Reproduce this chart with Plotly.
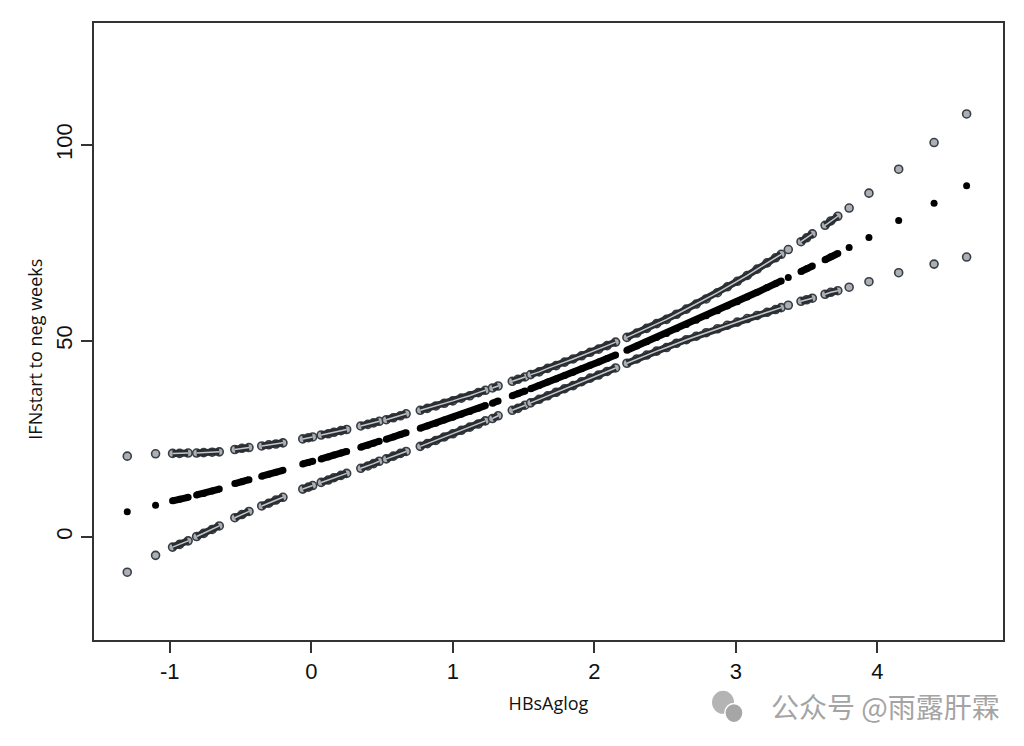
import plotly.graph_objects as go

# HBsAg (log) values of the observations; None marks a gap between runs of points
hbsag_log = [
    -1.30, None, -1.10, None,
    -0.98, -0.93, -0.87, None,
    -0.81, -0.76, -0.70, -0.65, None,
    -0.54, -0.49, -0.44, None,
    -0.35, -0.30, -0.25, -0.20, None,
    -0.06, -0.02, 0.01, None,
    0.07, 0.12, 0.16, 0.21, 0.25, None,
    0.35, 0.40, 0.44, 0.48, None,
    0.53, 0.58, 0.63, 0.67, None,
    0.77, 0.82, 0.88, 0.94, 1.00, 1.06, 1.12, 1.18, 1.23, None,
    1.28, 1.32, None,
    1.42, 1.46, 1.51, None,
    1.55, 1.61, 1.67, 1.73, 1.79, 1.85, 1.91, 1.97, 2.03, 2.09, 2.15, None,
    2.23, 2.30, 2.37, 2.44, 2.51, 2.58, 2.65, 2.72, 2.79, 2.87, 2.94, 3.01,
    3.08, 3.15, 3.22, 3.28, 3.32, None,
    3.37, None,
    3.46, 3.50, 3.54, None,
    3.63, 3.67, 3.72, None,
    3.80, None, 3.94, None, 4.15, None, 4.40, None, 4.63,
]

# fitted weeks (IFN start to HBsAg negative)
fit_weeks = [
    6.4, None, 8.1, None,
    9.2, 9.6, 10.1, None,
    10.7, 11.1, 11.7, 12.2, None,
    13.6, 14.1, 14.6, None,
    15.5, 16.0, 16.5, 17.0, None,
    18.6, 19.0, 19.3, None,
    19.9, 20.4, 20.9, 21.4, 21.8, None,
    22.9, 23.4, 23.9, 24.4, None,
    24.9, 25.5, 26.1, 26.6, None,
    27.7, 28.3, 29.0, 29.8, 30.5, 31.3, 32.0, 32.8, 33.5, None,
    34.1, 34.7, None,
    36.0, 36.5, 37.2, None,
    37.8, 38.6, 39.5, 40.3, 41.2, 42.0, 42.9, 43.8, 44.6, 45.5, 46.4, None,
    47.6, 48.7, 49.8, 50.9, 51.9, 53.1, 54.2, 55.3, 56.4, 57.7, 58.9, 60.0,
    61.2, 62.4, 63.6, 64.6, 65.3, None,
    66.2, None,
    67.7, 68.4, 69.1, None,
    70.7, 71.5, 72.3, None,
    73.8, None, 76.4, None, 80.7, None, 85.1, None, 89.6,
]

# upper confidence limit
upper_weeks = [
    20.6, None, 21.2, None,
    21.3, 21.3, 21.4, None,
    21.4, 21.5, 21.6, 21.7, None,
    22.3, 22.6, 22.8, None,
    23.2, 23.5, 23.7, 24.0, None,
    25.0, 25.3, 25.5, None,
    26.0, 26.3, 26.7, 27.1, 27.4, None,
    28.3, 28.7, 29.1, 29.5, None,
    29.9, 30.4, 30.9, 31.4, None,
    32.3, 32.8, 33.4, 34.1, 34.7, 35.4, 36.0, 36.8, 37.4, None,
    38.0, 38.5, None,
    39.7, 40.2, 40.8, None,
    41.4, 42.1, 43.0, 43.7, 44.6, 45.4, 46.2, 47.1, 47.9, 48.8, 49.7, None,
    50.9, 52.0, 53.2, 54.4, 55.5, 56.8, 58.1, 59.4, 60.7, 62.3, 63.8, 65.2,
    66.7, 68.3, 69.9, 71.2, 72.1, None,
    73.3, None,
    75.3, 76.3, 77.3, None,
    79.5, 80.6, 81.8, None,
    83.9, None, 87.7, None, 93.8, None, 100.6, None, 107.9,
]

# lower confidence limit
lower_weeks = [
    -9.0, None, -4.7, None,
    -2.6, -1.9, -1.0, None,
    0.1, 0.9, 1.9, 2.8, None,
    4.9, 5.7, 6.5, None,
    7.9, 8.6, 9.4, 10.1, None,
    12.2, 12.7, 13.1, None,
    13.9, 14.5, 15.1, 15.7, 16.2, None,
    17.5, 18.1, 18.7, 19.3, None,
    19.9, 20.6, 21.3, 21.8, None,
    23.1, 23.8, 24.6, 25.5, 26.3, 27.2, 28.0, 28.8, 29.6, None,
    30.2, 30.9, None,
    32.3, 32.8, 33.6, None,
    34.2, 35.1, 36.0, 36.9, 37.8, 38.6, 39.6, 40.5, 41.3, 42.2, 43.1, None,
    44.3, 45.4, 46.4, 47.4, 48.3, 49.4, 50.3, 51.2, 52.1, 53.1, 54.0, 54.8,
    55.7, 56.5, 57.3, 58.0, 58.5, None,
    59.1, None,
    60.1, 60.5, 60.9, None,
    61.9, 62.4, 62.8, None,
    63.7, None, 65.1, None, 67.4, None, 69.6, None, 71.4,
]

x_ticks = [-1, 0, 1, 2, 3, 4]
y_ticks = [0, 50, 100]

DARK = "#2a2d31"

fig = go.Figure()

# confidence limits: grey circles; where they pile up they read as dark outlined dashes
for band in (upper_weeks, lower_weeks):
    fig.add_trace(go.Scatter(
        x=hbsag_log, y=band, mode="markers",
        marker=dict(size=8, color="#aab0b6", line=dict(color="#3a3e43", width=1.6)),
        showlegend=False, hoverinfo="x+y",
    ))
    fig.add_trace(go.Scatter(
        x=hbsag_log, y=band, mode="lines",
        line=dict(color=DARK, width=7),
        connectgaps=False, showlegend=False, hoverinfo="skip",
    ))
    # light streak through the middle of each dash
    fig.add_trace(go.Scatter(
        x=hbsag_log, y=band, mode="lines",
        line=dict(color="#c3c8cc", width=1.5),
        connectgaps=False, showlegend=False, hoverinfo="skip",
    ))

# fitted line: solid black points
fig.add_trace(go.Scatter(
    x=hbsag_log, y=fit_weeks, mode="lines+markers",
    line=dict(color="#000000", width=7),
    marker=dict(size=7, color="#000000"),
    connectgaps=False, showlegend=False, hoverinfo="x+y",
))

axis_font = dict(family="Liberation Sans, Arial", size=22, color="#111111")
title_font = dict(family="Open Sans", size=18, color="#111111")
fig.update_xaxes(
    range=[-1.535, 4.887], tickvals=x_ticks, ticktext=[str(v) for v in x_ticks],
    ticks="outside", ticklen=11, tickwidth=1.5, tickcolor="#333333",
    showline=True, linecolor="#333333", linewidth=2, mirror=True,
    showgrid=False, zeroline=False, tickfont=axis_font,
    title=dict(text="HBsAglog", font=title_font, standoff=14),
)
fig.update_yaxes(
    range=[-26.3, 131.1], tickvals=y_ticks, ticktext=[str(v) for v in y_ticks],
    ticks="outside", ticklen=11, tickwidth=1.5, tickcolor="#333333",
    showline=True, linecolor="#333333", linewidth=2, mirror=True,
    showgrid=False, zeroline=False, tickfont=axis_font, tickangle=-90,
)

# y axis title, set a little below the middle as in the original
fig.add_annotation(
    text="IFNstart to neg weeks", xref="paper", yref="paper", x=-0.065, y=0.472,
    xanchor="center", yanchor="middle", textangle=-90, showarrow=False,
    font=title_font,
)

# site watermark at the bottom right
fig.add_shape(type="circle", xref="paper", yref="paper",
              x0=0.681, x1=0.703, y0=-0.118, y1=-0.084,
              fillcolor="#b4b4b4", line=dict(color="#b4b4b4"))
fig.add_shape(type="circle", xref="paper", yref="paper",
              x0=0.694, x1=0.714, y0=-0.134, y1=-0.103,
              fillcolor="#a6a6a6", line=dict(color="#ffffff", width=1.5))
fig.add_annotation(
    text="公众号 @雨露肝霖", xref="paper", yref="paper", x=0.999, y=-0.107,
    xanchor="right", yanchor="middle", showarrow=False,
    font=dict(family="Noto Sans CJK SC", size=28, color="#a4a4a4"),
)

# page body adds an 8px margin, so the figure is sized to sit inside it
fig.update_layout(
    width=1008, height=730,
    margin=dict(l=86, r=11, t=15, b=98),
    paper_bgcolor="#ffffff", plot_bgcolor="#ffffff",
)

fig.write_html("out.html")
